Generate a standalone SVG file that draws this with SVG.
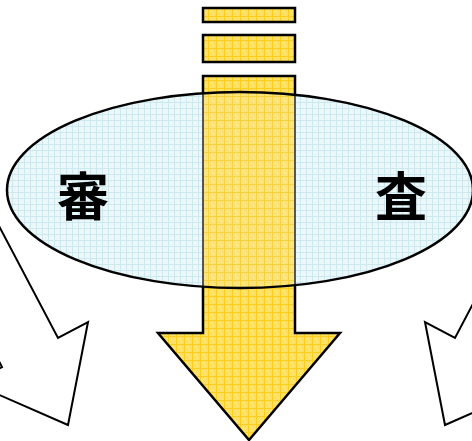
<svg xmlns="http://www.w3.org/2000/svg" width="472" height="441" viewBox="0 0 472 441">
<defs>
<pattern id="yel" width="8" height="8" patternUnits="userSpaceOnUse">
<rect width="8" height="8" fill="#FFE066"/>
<rect x="0" y="0" width="8" height="1" fill="#FACD1E"/>
<rect x="0" y="0" width="1" height="8" fill="#FACD1E"/>
<rect x="3" y="3" width="1" height="1" fill="#FFEE9E"/>
<rect x="5" y="5" width="1" height="1" fill="#FFEE9E"/>
</pattern>
<pattern id="blu" width="6" height="6" patternUnits="userSpaceOnUse">
<rect width="6" height="6" fill="#ECF7F9"/>
<rect x="0" y="0" width="6" height="1" fill="#CDE8EE"/>
<rect x="0" y="0" width="1" height="6" fill="#CDE8EE"/>
</pattern>
<clipPath id="ec"><ellipse cx="240" cy="190" rx="233" ry="98"/></clipPath>
<style>
.y{fill:url(#yel);stroke:#000;stroke-width:2.5;stroke-linejoin:miter}
.w{fill:#fff;stroke:#000;stroke-width:2;stroke-linejoin:miter}
.t{font-family:"Noto Sans CJK JP","Noto Sans CJK SC",sans-serif;font-weight:bold;font-size:52px;fill:#000;text-anchor:middle}
</style>
</defs>
<g id="connectors">
<polygon id="left-arrow" class="w" points="-82,72 58,338 88,322 68,425 -28,383 2,367 -138,101"/>
<polygon id="right-arrow" class="w" transform="translate(513,0) scale(-1,1)" points="-82,72 58,338 88,322 68,425 -28,383 2,367 -138,101"/>
</g>
<g id="bar1"><rect class="y" x="203" y="8" width="92" height="14"/></g>
<g id="bar2"><rect class="y" x="203" y="35" width="92" height="27"/></g>
<g id="main-arrow"><polygon class="y" points="203,76 295,76 295,333 340,333 249,440 158,333 203,333"/></g>
<g id="ellipse">
<ellipse cx="240" cy="190" rx="233" ry="98" fill="url(#blu)"/>
<rect x="203" y="76" width="92" height="240" fill="url(#yel)" fill-opacity="0.85" stroke="#555" stroke-width="2" clip-path="url(#ec)"/>
<ellipse cx="240" cy="190" rx="233" ry="98" fill="none" stroke="#000" stroke-width="2.5"/>
<text class="t" x="83" y="216">審</text>
<text class="t" x="401" y="216">査</text>
</g>
</svg>
